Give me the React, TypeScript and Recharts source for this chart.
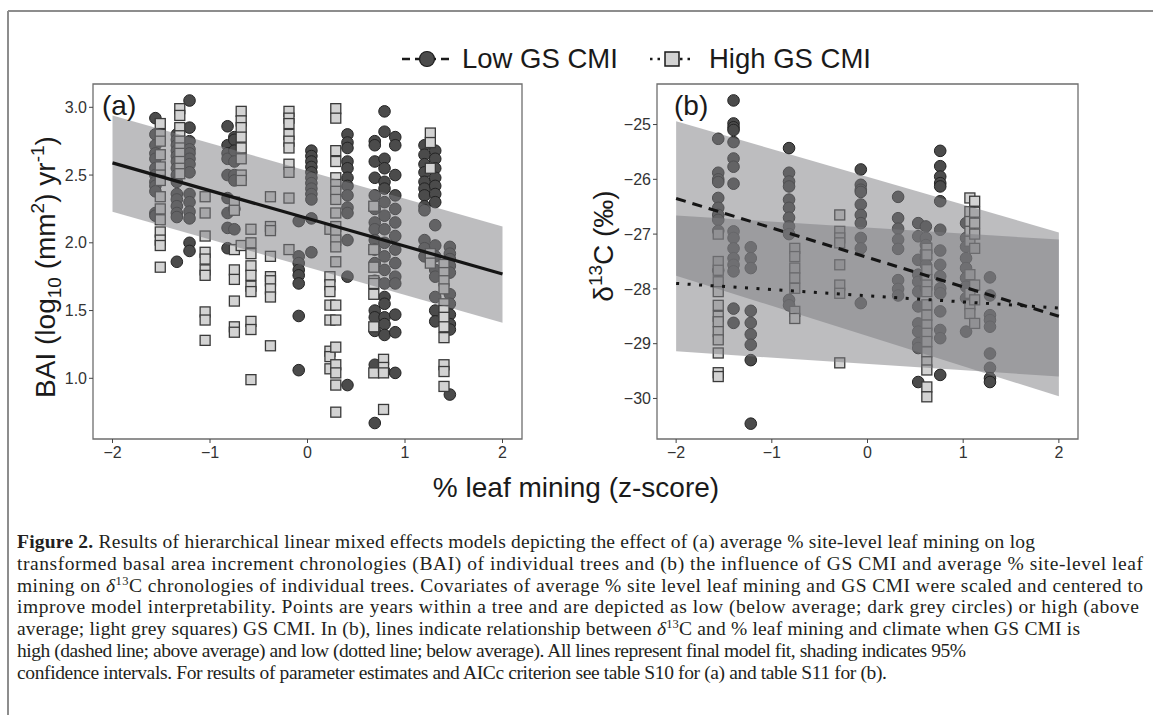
import { ComposedChart, Scatter, Line, Area, XAxis, YAxis, ReferenceArea } from 'recharts'

// axis ticks
const xTicks = [-2, -1, 0, 1, 2]
const aYTicks = [1.0, 1.5, 2.0, 2.5, 3.0]
const bYTicks = [-30, -29, -28, -27, -26, -25]

// (a) BAI, columns of [site % leaf mining, yearly values]
const aLowCols: [number, number[]][] = [
  [-1.56, [2.92, 2.8, 2.72, 2.66, 2.62, 2.55, 2.5, 2.45, 2.42, 2.38, 2.22, 2.2]],
  [-1.34, [2.8, 2.76, 2.72, 2.68, 2.64, 2.6, 2.55, 2.5, 2.45, 2.36, 2.32, 2.27, 2.22, 2.19, 1.86]],
  [-1.21, [3.05, 2.85, 2.75, 2.69, 2.66, 2.62, 2.58, 2.52, 2.36, 2.3, 2.23, 2.18, 2.0, 1.94]],
  [-0.82, [2.86, 2.72, 2.66, 2.62, 2.5, 2.33, 2.22, 2.11, 1.96]],
  [-0.75, [2.78, 2.76, 2.68, 2.6, 2.5, 2.46, 2.25, 2.1]],
  [-0.09, [2.16, 1.9, 1.85, 1.8, 1.76, 1.7, 1.46, 1.06]],
  [0.04, [2.68, 2.64, 2.6, 2.56, 2.52, 2.48, 2.44, 2.4, 2.36, 2.32, 2.18, 1.93]],
  [0.41, [2.8, 2.74, 2.7, 2.6, 2.55, 2.48, 2.42, 2.35, 2.26, 2.22, 2.02, 1.75, 0.95]],
  [0.69, [2.75, 2.72, 2.6, 2.48, 2.35, 2.25, 2.15, 2.1, 2.02, 1.95, 1.85, 1.72, 1.5, 1.45, 1.35, 1.1, 0.67]],
  [0.79, [2.97, 2.82, 2.62, 2.55, 2.45, 2.4, 2.3, 2.2, 2.1, 2.0, 1.9, 1.8, 1.7, 1.6, 1.55, 1.45, 1.4, 1.32, 1.05]],
  [0.9, [2.78, 2.72, 2.5, 2.35, 2.25, 2.15, 2.05, 1.95, 1.85, 1.75, 1.7, 1.47, 1.34, 1.04]],
  [1.2, [2.72, 2.65, 2.58, 2.52, 2.45, 2.4, 2.35, 2.27, 2.24, 2.02, 1.96, 1.9]],
  [1.31, [2.68, 2.62, 2.55, 2.48, 2.42, 2.36, 2.3, 2.13, 1.98, 1.9, 1.8, 1.75, 1.6, 1.5, 1.42]],
  [1.46, [1.97, 1.92, 1.88, 1.83, 1.78, 1.62, 1.55, 1.47, 1.4, 1.36, 0.88]],
]
const aHighCols: [number, number[]][] = [
  [-1.51, [2.88, 2.8, 2.75, 2.65, 2.56, 2.5, 2.46, 2.34, 2.25, 2.17, 2.08, 2.02, 1.98, 1.82]],
  [-1.31, [2.99, 2.94, 2.85, 2.79, 2.75, 2.7, 2.66, 2.6, 2.55, 2.51]],
  [-1.05, [2.34, 2.22, 2.05, 1.93, 1.88, 1.8, 1.76, 1.49, 1.43, 1.28]],
  [-0.75, [2.3, 2.24, 1.95, 1.8, 1.73, 1.57, 1.38, 1.34]],
  [-0.68, [2.97, 2.9, 2.85, 2.78, 2.7, 2.62, 2.5, 2.46, 1.98]],
  [-0.58, [2.1, 2.0, 1.92, 1.83, 1.76, 1.68, 1.64, 1.42, 1.36, 0.99]],
  [-0.38, [2.34, 2.12, 2.09, 1.9, 1.75, 1.72, 1.66, 1.6, 1.24]],
  [-0.19, [2.97, 2.92, 2.88, 2.8, 2.75, 2.7, 2.58, 2.52, 2.33, 1.95]],
  [0.23, [2.1, 1.75, 1.69, 1.64, 1.54, 1.43, 1.2, 1.16, 1.07]],
  [0.29, [2.99, 2.92, 2.68, 2.6, 2.48, 2.43, 2.38, 2.32, 2.22, 2.12, 2.08, 2.02, 1.97, 1.86, 1.54, 1.43, 1.23, 1.1, 1.04, 0.95, 0.75]],
  [0.68, [2.27, 1.95, 1.82, 1.72, 1.7, 1.62, 1.38, 1.04]],
  [0.78, [1.14, 1.08, 1.04, 0.77]],
  [1.26, [2.81, 2.74, 2.55, 1.92, 1.85]],
  [1.4, [1.84, 1.78, 1.72, 1.66, 1.55, 1.5, 1.45, 1.38, 1.3, 1.1, 1.05, 0.94]],
]

// (a) model fit and 95% CI at the ends of the x range
const fitX = [-2, 2]
const aFit = [2.59, 1.77]
const aCiLow = [2.23, 1.41]
const aCiHigh = [2.94, 2.12]

// (b) d13C columns
const bLowCols: [number, number[]][] = [
  [-1.56, [-25.26, -25.88, -26.0, -26.05, -26.34, -26.52, -26.65, -26.74, -26.94, -27.66]],
  [-1.4, [-24.56, -24.98, -25.05, -25.1, -25.32, -25.62, -25.77, -26.08, -26.95, -27.07, -27.26, -27.44, -27.56, -27.68, -28.36, -28.62]],
  [-1.22, [-27.24, -27.44, -27.62, -28.4, -28.62, -28.83, -29.02, -29.3, -30.46]],
  [-0.82, [-25.43, -25.88, -26.04, -26.13, -26.37, -26.52, -26.7, -26.86, -27.0, -28.2, -28.3]],
  [-0.07, [-25.82, -26.1, -26.19, -26.23, -26.46, -26.65, -26.8, -27.07, -27.26, -28.26]],
  [0.32, [-26.32, -26.71, -26.9, -27.1, -27.27, -27.84, -28.0, -28.12]],
  [0.53, [-26.8, -27.04, -27.47, -27.74, -27.87, -28.05, -28.32, -28.63, -28.78, -28.99, -29.08, -29.7]],
  [0.61, [-26.86, -27.07, -27.2, -27.32, -27.44, -27.56, -27.8, -27.99]],
  [0.76, [-25.48, -25.76, -25.95, -26.07, -26.13, -26.4, -26.92, -27.3, -27.56, -27.77, -27.99, -28.08, -28.41, -28.75, -28.9, -29.57]],
  [1.03, [-26.8, -27.07, -27.23, -27.44, -27.62, -27.8, -27.96, -28.17, -28.78]],
  [1.28, [-27.79, -28.12, -28.48, -28.57, -28.69, -29.18, -29.44, -29.63, -29.7]],
]
const bHighCols: [number, number[]][] = [
  [-1.56, [-27.0, -27.5, -27.66, -27.87, -28.05, -28.3, -28.5, -28.6, -28.78, -28.93, -29.17, -29.53, -29.6]],
  [-0.76, [-27.26, -27.41, -27.62, -27.8, -27.99, -28.41, -28.54]],
  [-0.29, [-26.65, -26.95, -27.07, -27.16, -27.56, -27.93, -28.08, -29.35]],
  [0.62, [-27.26, -27.38, -27.65, -27.83, -27.93, -28.05, -28.29, -28.48, -28.66, -28.81, -28.96, -29.15, -29.33, -29.48, -29.79, -29.97]],
  [1.07, [-26.34, -26.59, -26.77, -26.95, -27.13, -27.74, -28.08, -28.29, -28.45]],
  [1.12, [-26.4, -26.6, -26.8, -27.0, -27.26, -27.93, -28.2, -28.63]],
]

// (b) fits: dashed = low GS CMI, dotted = high GS CMI
const bLowFit = [-26.35, -28.5]
const bLowCiLow = [-27.76, -29.96]
const bLowCiHigh = [-24.94, -26.97]
const bHighFit = [-27.9, -28.35]
const bHighCiLow = [-29.14, -29.6]
const bHighCiHigh = [-26.66, -27.1]

const SANS = '"Liberation Sans", Arial, Helvetica, sans-serif'
const SERIF = '"Liberation Serif", "Times New Roman", serif'

const toPoints = (cols: [number, number[]][]) =>
  cols.flatMap(([x, ys]) => ys.map((y) => ({ x, y })))

const aFitData = fitX.map((x, i) => ({ x, fit: aFit[i], ci: [aCiLow[i], aCiHigh[i]] }))
const bFitData = fitX.map((x, i) => ({
  x,
  lowFit: bLowFit[i],
  lowCi: [bLowCiLow[i], bLowCiHigh[i]],
  highFit: bHighFit[i],
  highCi: [bHighCiLow[i], bHighCiHigh[i]],
}))

const aDomain = [0.552, 3.172]
const bDomain = [-30.74, -24.26]

const CircleDot = (p: any) => (
  <circle cx={p.cx} cy={p.cy} r={5.8} fill="#4b4b4b" stroke="#232323" strokeWidth={1} />
)
const SquareDot = (p: any) => (
  <rect x={p.cx - 5} y={p.cy - 5} width={10} height={10} fill="#d3d3d3" stroke="#3a3a3a" strokeWidth={1.3} />
)

const minus = (v: number) => String(v).replace('-', '\u2212')
const tickStyle = { fill: '#333', fontSize: 16, fontFamily: SANS }
const ribbon = { fill: '#7b7c80', fillOpacity: 0.5, stroke: 'none' }

const PanelA = () => (
  <ComposedChart
    width={540}
    height={480}
    data={aFitData}
    margin={{ top: 84, right: 18, bottom: 11, left: 53 }}
  >
    <XAxis
      type="number"
      dataKey="x"
      domain={[-2.2, 2.2]}
      allowDataOverflow
      ticks={xTicks}
      tickFormatter={minus}
      axisLine={false}
      tickLine={{ stroke: '#444' }}
      tickSize={4}
      tickMargin={4}
      height={30}
      tick={tickStyle}
    />
    <YAxis
      type="number"
      dataKey="y"
      domain={aDomain}
      allowDataOverflow
      ticks={aYTicks}
      tickFormatter={(v: number) => v.toFixed(1)}
      axisLine={false}
      tickLine={{ stroke: '#444' }}
      tickSize={4}
      tickMargin={2}
      width={40}
      tick={tickStyle}
    />
    <Scatter data={toPoints(aLowCols)} shape={CircleDot} isAnimationActive={false} />
    <Scatter data={toPoints(aHighCols)} shape={SquareDot} isAnimationActive={false} />
    <Area dataKey="ci" type="linear" {...ribbon} dot={false} activeDot={false} zIndex={700} isAnimationActive={false} />
    <Line dataKey="fit" type="linear" stroke="#151515" strokeWidth={3.2} dot={false} activeDot={false} zIndex={800} isAnimationActive={false} />
    <ReferenceArea x1={-2.2} x2={2.2} y1={aDomain[0]} y2={aDomain[1]} fill="none" stroke="#6e6e6e" strokeWidth={1.3} ifOverflow="visible" />
  </ComposedChart>
)

const PanelB = () => (
  <ComposedChart
    width={583}
    height={480}
    data={bFitData}
    margin={{ top: 84, right: 75, bottom: 11, left: 47 }}
  >
    <XAxis
      type="number"
      dataKey="x"
      domain={[-2.2, 2.2]}
      allowDataOverflow
      ticks={xTicks}
      tickFormatter={minus}
      axisLine={false}
      tickLine={{ stroke: '#444' }}
      tickSize={4}
      tickMargin={4}
      height={30}
      tick={tickStyle}
    />
    <YAxis
      type="number"
      dataKey="y"
      domain={bDomain}
      allowDataOverflow
      ticks={bYTicks}
      tickFormatter={minus}
      axisLine={false}
      tickLine={{ stroke: '#444' }}
      tickSize={4}
      tickMargin={2}
      width={40}
      tick={tickStyle}
    />
    <Scatter data={toPoints(bLowCols)} shape={CircleDot} isAnimationActive={false} />
    <Scatter data={toPoints(bHighCols)} shape={SquareDot} isAnimationActive={false} />
    <Area dataKey="lowCi" type="linear" {...ribbon} dot={false} activeDot={false} zIndex={700} isAnimationActive={false} />
    <Area dataKey="highCi" type="linear" {...ribbon} dot={false} activeDot={false} zIndex={700} isAnimationActive={false} />
    <Line dataKey="lowFit" type="linear" stroke="#151515" strokeWidth={3} strokeDasharray="10 7" dot={false} activeDot={false} zIndex={800} isAnimationActive={false} />
    <Line dataKey="highFit" type="linear" stroke="#151515" strokeWidth={3} strokeDasharray="3 8.5" dot={false} activeDot={false} zIndex={800} isAnimationActive={false} />
    <ReferenceArea x1={-2.2} x2={2.2} y1={bDomain[0]} y2={bDomain[1]} fill="none" stroke="#6e6e6e" strokeWidth={1.3} ifOverflow="visible" />
  </ComposedChart>
)

const captionLines: { w: number; parts: [string, string][] }[] = [
  { w: 1018, parts: [['b', 'Figure 2.'], ['', ' Results of hierarchical linear mixed effects models depicting the effect of (a) average % site-level leaf mining on log']] },
  { w: 1126, parts: [['', 'transformed basal area increment chronologies (BAI) of individual trees and (b) the influence of GS CMI and average % site-level leaf']] },
  { w: 1126, parts: [['', 'mining on '], ['i', '\u03b4'], ['sup', '13'], ['', 'C chronologies of individual trees. Covariates of average % site level leaf mining and GS CMI were scaled and centered to']] },
  { w: 1122, parts: [['', 'improve model interpretability. Points are years within a tree and are depicted as low (below average; dark grey circles) or high (above']] },
  { w: 1063, parts: [['', 'average; light grey squares) GS CMI. In (b), lines indicate relationship between '], ['i', '\u03b4'], ['sup', '13'], ['', 'C and % leaf mining and climate when GS CMI is']] },
  { w: 949, parts: [['', 'high (dashed line; above average) and low (dotted line; below average). All lines represent final model fit, shading indicates 95%']] },
  { w: 870, parts: [['', 'confidence intervals. For results of parameter estimates and AICc criterion see table S10 for (a) and table S11 for (b).']] },
]

const Caption = () => (
  <g fontFamily={SERIF} fontSize={19.5} fill="#231f20">
    {captionLines.map((line, li) => {
      let shifted = false
      return (
        <text key={li} x={17} y={548 + li * 21.8} textLength={line.w} lengthAdjust="spacing">
          {line.parts.map(([kind, txt], pi) => {
            if (kind === 'b') return <tspan key={pi} fontWeight="bold">{txt}</tspan>
            if (kind === 'i') return <tspan key={pi} fontStyle="italic">{txt}</tspan>
            if (kind === 'sup') {
              shifted = true
              return <tspan key={pi} dy={-7} fontSize={12.5}>{txt}</tspan>
            }
            const dy = shifted ? 7 : 0
            shifted = false
            return <tspan key={pi} dy={dy}>{txt}</tspan>
          })}
        </text>
      )
    })}
  </g>
)

const Overlay = () => (
  <svg width={1153} height={715} style={{ position: 'absolute', left: 0, top: 0, pointerEvents: 'none' }}>
    {/* page frame */}
    <line x1={8} y1={11} x2={1153} y2={11} stroke="#8d8d8d" strokeWidth={2} />
    <line x1={8} y1={11} x2={8} y2={715} stroke="#8d8d8d" strokeWidth={2} />

    {/* legend */}
    <g fontFamily={SANS} fontSize={27.5} fill="#1a1a1a">
      <line x1={402} y1={59} x2={452} y2={59} stroke="#1a1a1a" strokeWidth={2.5} strokeDasharray="8 5" />
      <circle cx={427} cy={59} r={7.5} fill="#4b4b4b" stroke="#1a1a1a" strokeWidth={1.2} />
      <text x={462} y={68}>Low GS CMI</text>
      <line x1={650} y1={59} x2={694} y2={59} stroke="#1a1a1a" strokeWidth={2.5} strokeDasharray="2.5 5" />
      <rect x={665} y={52} width={14} height={14} fill="#d3d3d3" stroke="#1a1a1a" strokeWidth={1.5} />
      <text x={709} y={68}>High GS CMI</text>
    </g>

    {/* panel tags */}
    <g fontFamily={SANS} fontSize={28} fill="#1a1a1a">
      <text x={102} y={115}>(a)</text>
      <text x={674} y={115}>(b)</text>
    </g>

    {/* axis titles */}
    <g fontFamily={SANS} fontSize={28} fill="#1a1a1a">
      <text transform="translate(55 267) rotate(-90)" textAnchor="middle">
        BAI (log<tspan dy={6} fontSize={19}>10</tspan>
        <tspan dy={-6}> (mm</tspan>
        <tspan dy={-11} fontSize={19}>2</tspan>
        <tspan dy={11}>) yr</tspan>
        <tspan dy={-11} fontSize={19}>-1</tspan>
        <tspan dy={11}>)</tspan>
      </text>
      <text transform="translate(613 246) rotate(-90)" textAnchor="middle">
        {'\u03b4'}
        <tspan dy={-11} fontSize={19}>13</tspan>
        <tspan dy={11}>C (‰)</tspan>
      </text>
      <text x={576} y={497} textAnchor="middle">% leaf mining (z-score)</text>
    </g>

    <Caption />
  </svg>
)

export default function App() {
  return (
    <div style={{ position: 'absolute', left: 0, top: 0, width: 1153, height: 715, background: '#fff', overflow: 'hidden' }}>
      <div style={{ position: 'absolute', left: 0, top: 0 }}>
        <PanelA />
      </div>
      <div style={{ position: 'absolute', left: 570, top: 0 }}>
        <PanelB />
      </div>
      <Overlay />
    </div>
  )
}
